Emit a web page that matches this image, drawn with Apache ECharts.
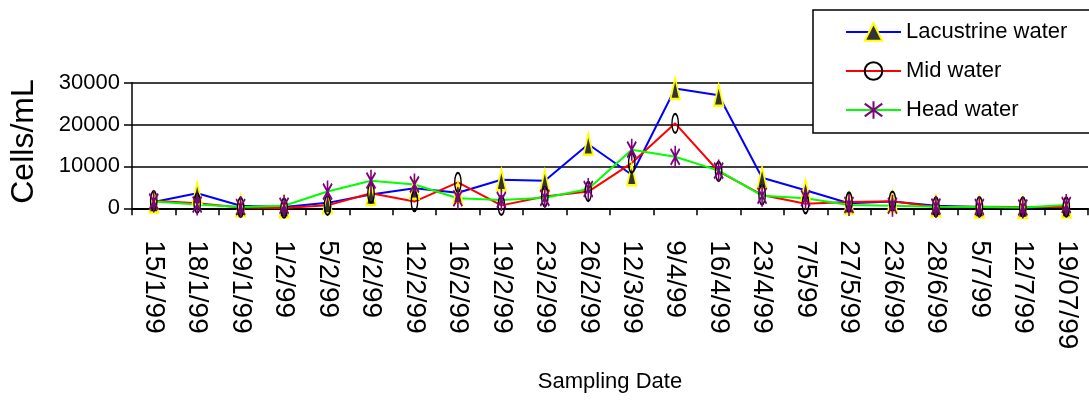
<!DOCTYPE html>
<html>
<head>
<meta charset="utf-8">
<script src="https://cdn.jsdelivr.net/npm/echarts@6/dist/echarts.min.js"></script>
<style>
  html, body { margin: 0; padding: 0; background: #fff; }
  #chart { width: 1089px; height: 406px; }
</style>
</head>
<body>
<div id="chart"></div>
<script>
const categories = ['15/1/99','18/1/99','29/1/99','1/2/99','5/2/99','8/2/99','12/2/99','16/2/99','19/2/99','23/2/99','26/2/99','12/3/99','9/4/99','16/4/99','23/4/99','7/5/99','27/5/99','23/6/99','28/6/99','5/7/99','12/7/99','19/07/99'];
const lacustrine = [1500, 3600, 600, 300, 1300, 3300, 4800, 3700, 6800, 6600, 15300, 8000, 28600, 27000, 7300, 4300, 1200, 1600, 600, 300, 200, 300];
const mid        = [1800, 1200, 200, 50, 700, 3600, 1600, 6200, 700, 2800, 4000, 10800, 20300, 8800, 3200, 1100, 1500, 1700, 300, 400, 300, 300];
const head       = [1600, 900, 300, 600, 4000, 6600, 5700, 2400, 2000, 2500, 4600, 14000, 12300, 9000, 3000, 2400, 800, 600, 400, 300, 200, 800];
const seriesNames = ['Lacustrine water', 'Mid water', 'Head water'];
const yTicks = { min: 0, max: 30000, interval: 10000 };

const FONT = '"Liberation Sans", Arial, sans-serif';
const TRI = 'path://M7,0L14,21L0,21Z';
const ELL = 'path://M5.5,0A5.5,9.5 0 1,1 5.5,19A5.5,9.5 0 1,1 5.5,0Z';
const AST = 'path://M7,0L7,22M0,3L14,19M14,3L0,19';

const chart = echarts.init(document.getElementById('chart'), null, { renderer: 'canvas' });
chart.setOption({
  backgroundColor: '#ffffff',
  animation: false,
  textStyle: { fontFamily: FONT, color: '#000' },
  grid: { left: 130, right: 1, top: 82.7, bottom: 197.7, containLabel: false },
  legend: {
    orient: 'vertical',
    left: 813, top: 10,
    padding: [11, 40, 12, 32],
    itemWidth: 55, itemHeight: 22, itemGap: 17,
    borderColor: '#000', borderWidth: 1.5,
    backgroundColor: '#fff',
    textStyle: { fontFamily: FONT, fontSize: 22, color: '#000', lineHeight: 22 },
    data: seriesNames
  },
  xAxis: {
    type: 'category',
    data: categories,
    boundaryGap: true,
    name: 'Sampling Date',
    nameLocation: 'middle',
    nameGap: 163,
    nameTextStyle: { fontFamily: FONT, fontSize: 22, color: '#000' },
    axisLine: { lineStyle: { color: '#000', width: 2 } },
    axisTick: { show: true, length: 7, alignWithLabel: false, lineStyle: { color: '#000', width: 1.5 } },
    axisLabel: { rotate: -90, margin: 32, fontSize: 28, color: '#000', fontFamily: FONT, interval: 0 },
    splitLine: { show: false }
  },
  yAxis: {
    type: 'value',
    min: yTicks.min, max: yTicks.max, interval: yTicks.interval,
    name: 'Cells/mL',
    nameLocation: 'middle',
    nameRotate: 90,
    nameGap: 92,
    nameTextStyle: { fontFamily: FONT, fontSize: 32, color: '#000', padding: [0, 0, 0, 8] },
    axisLine: { show: true, lineStyle: { color: '#000', width: 1.5 } },
    axisTick: { show: true, length: 8, lineStyle: { color: '#000', width: 1.5 } },
    axisLabel: { margin: 12, fontSize: 22, color: '#000', fontFamily: FONT, formatter: function (v) { return String(v); } },
    splitLine: { show: true, lineStyle: { color: '#000', width: 1.5 } }
  },
  series: [
    {
      name: seriesNames[0], type: 'line', data: lacustrine,
      symbol: TRI, symbolSize: [14, 21], symbolKeepAspect: true,
      lineStyle: { color: '#0000ff', width: 2 },
      itemStyle: { color: '#333333', borderColor: '#ffff00', borderWidth: 2 },
      emphasis: { disabled: true }
    },
    {
      name: seriesNames[1], type: 'line', data: mid,
      symbol: ELL, symbolSize: [11, 19], symbolKeepAspect: true,
      lineStyle: { color: '#ff0000', width: 2 },
      itemStyle: { color: 'rgba(0,0,0,0)', borderColor: '#000000', borderWidth: 1.8 },
      emphasis: { disabled: true }
    },
    {
      name: seriesNames[2], type: 'line', data: head,
      symbol: AST, symbolSize: [14, 22], symbolKeepAspect: true,
      lineStyle: { color: '#00ff00', width: 2 },
      itemStyle: { color: 'rgba(0,0,0,0)', borderColor: '#800080', borderWidth: 2 },
      emphasis: { disabled: true }
    }
  ]
});
</script>
</body>
</html>
